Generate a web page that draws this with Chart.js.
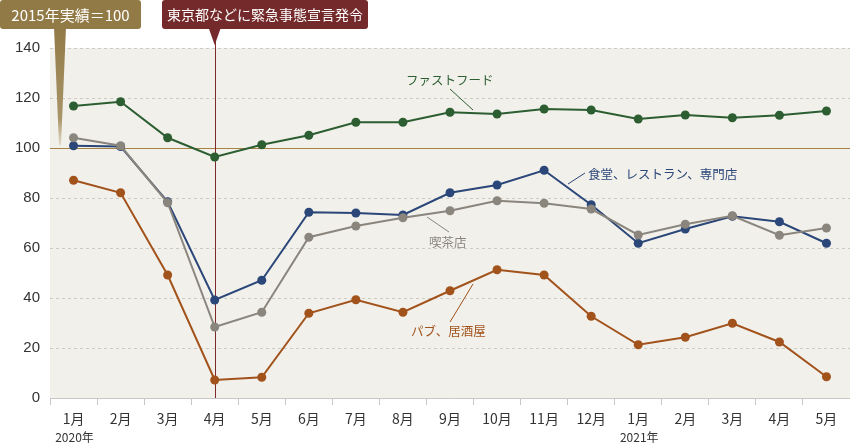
<!DOCTYPE html>
<html><head><meta charset="utf-8">
<script src="https://cdn.jsdelivr.net/npm/chart.js@4/dist/chart.umd.min.js"></script>
<style>html,body{margin:0;padding:0;background:#fff}#wrap{width:850px;height:445px;position:relative}</style>
</head><body><div id="wrap"><canvas id="c"></canvas></div>
<script>
const months = ['1月','2月','3月','4月','5月','6月','7月','8月','9月','10月','11月','12月','1月','2月','3月','4月','5月'];
const yearLabelIndex = [0, 12];
const yearLabelText = ['2020年', '2021年'];
const fastFood   = [116.8,118.5,104.1,96.4,101.3,105.1,110.3,110.3,114.3,113.6,115.6,115.2,111.6,113.2,112.1,113.1,114.8];
const restaurant = [100.9,100.6,78.5,39.2,47.1,74.3,74.0,73.2,82.1,85.2,91.1,77.3,61.9,67.6,72.7,70.5,61.9];
const kissaten   = [104.1,100.9,78.1,28.4,34.3,64.3,68.8,72.1,74.9,78.9,77.9,75.6,65.2,69.5,72.9,65.1,68.0];
const pub        = [87.1,82.1,49.2,7.2,8.3,33.9,39.3,34.3,42.9,51.3,49.2,32.7,21.3,24.3,29.9,22.4,8.5];
const seriesNames = ['ファストフード','食堂、レストラン、専門店','喫茶店','パブ、居酒屋'];
const yTicks = [0,20,40,60,80,100,120,140];
const baseValue = 100;
const emergencyIndex = 3;
const baseNote = '2015年実績＝100';
const emergencyNote = '東京都などに緊急事態宣言発令';

const C_GREEN = '#2c5e31', C_BLUE = '#2b4678', C_GRAY = '#8a857d', C_ORANGE = '#a2521b';
const JP = '"Noto Sans CJK JP", "Noto Sans", sans-serif';
const NUM = '"Liberation Sans", Arial, sans-serif';

function ds(label, data, color) {
  return { label, data, borderColor: color, backgroundColor: color, borderWidth: 2,
    pointRadius: 4.5, pointBackgroundColor: color, pointBorderWidth: 0, tension: 0 };
}

const deco = {
  id: 'deco',
  beforeDraw(chart) {
    const {ctx, chartArea: a} = chart;
    ctx.save();
    ctx.fillStyle = '#f1f0eb';
    ctx.fillRect(a.left, a.top, a.right - a.left, a.bottom - a.top);
    ctx.restore();
  },
  beforeDatasetsDraw(chart) {
    const {ctx, chartArea: a, scales: {x, y}} = chart;
    ctx.save();
    const y100 = Math.round(y.getPixelForValue(baseValue)) + 0.5;
    ctx.strokeStyle = '#a68243'; ctx.lineWidth = 1;
    ctx.beginPath(); ctx.moveTo(a.left, y100); ctx.lineTo(a.right, y100); ctx.stroke();
    const xe = Math.round(x.getPixelForValue(emergencyIndex)) + 0.5;
    ctx.strokeStyle = '#7e2a2a';
    ctx.beginPath(); ctx.moveTo(xe, 40); ctx.lineTo(xe, a.bottom); ctx.stroke();
    ctx.restore();
  },
  afterDatasetsDraw(chart) {
    const {ctx, chartArea: a, scales: {x, y}} = chart;
    ctx.save();
    function leader(x1, y1, x2, y2, color) {
      ctx.strokeStyle = color; ctx.lineWidth = 1;
      ctx.beginPath(); ctx.moveTo(x1, y1); ctx.lineTo(x2, y2); ctx.stroke();
    }
    function label(text, lx, ly, color) {
      ctx.fillStyle = color; ctx.font = '12.5px ' + JP;
      ctx.textAlign = 'left'; ctx.textBaseline = 'middle';
      ctx.fillText(text, lx, ly);
    }
    leader(450, 89, 473, 110, C_GREEN); label(seriesNames[0], 406, 80, C_GREEN);
    leader(585, 173, 568, 184, C_BLUE); label(seriesNames[1], 588, 174, C_BLUE);
    leader(427, 217, 449, 232, C_GRAY); label(seriesNames[2], 429, 242, C_GRAY);
    leader(450, 322, 473, 284, C_ORANGE); label(seriesNames[3], 411, 331, C_ORANGE);

    function rbox(x0, y0, w, h, r, color) {
      ctx.fillStyle = color;
      ctx.beginPath();
      ctx.moveTo(x0 + r, y0); ctx.lineTo(x0 + w - r, y0); ctx.quadraticCurveTo(x0 + w, y0, x0 + w, y0 + r);
      ctx.lineTo(x0 + w, y0 + h - r); ctx.quadraticCurveTo(x0 + w, y0 + h, x0 + w - r, y0 + h);
      ctx.lineTo(x0 + r, y0 + h); ctx.quadraticCurveTo(x0, y0 + h, x0, y0 + h - r);
      ctx.lineTo(x0, y0 + r); ctx.quadraticCurveTo(x0, y0, x0 + r, y0); ctx.closePath(); ctx.fill();
    }
    const y100 = y.getPixelForValue(baseValue);
    const g = ctx.createLinearGradient(0, 28, 0, y100);
    g.addColorStop(0, '#927a46'); g.addColorStop(0.75, '#a89468'); g.addColorStop(1, '#e8e2d2');
    ctx.fillStyle = g;
    ctx.beginPath(); ctx.moveTo(54, 27); ctx.lineTo(66, 27); ctx.lineTo(61, y100 - 3); ctx.lineTo(59, y100 - 3); ctx.closePath(); ctx.fill();
    rbox(0, 0, 141, 29, 3, '#927a46');
    ctx.fillStyle = '#fff'; ctx.font = '15px ' + JP; ctx.textAlign = 'center'; ctx.textBaseline = 'middle';
    ctx.fillText(baseNote, 70.5, 15);
    const xe = x.getPixelForValue(emergencyIndex);
    rbox(162, 0, 206, 29, 3, '#742a2a');
    ctx.fillStyle = '#742a2a';
    ctx.beginPath(); ctx.moveTo(xe - 6, 28); ctx.lineTo(xe + 6, 28); ctx.lineTo(xe, 45); ctx.closePath(); ctx.fill();
    ctx.fillStyle = '#fff'; ctx.font = '14px ' + JP;
    ctx.fillText(emergencyNote, 265, 15);
    ctx.restore();
  },
  afterDraw(chart) {
    const {ctx, scales: {x}} = chart;
    ctx.save();
    ctx.fillStyle = '#333'; ctx.font = '12px ' + JP; ctx.textAlign = 'center'; ctx.textBaseline = 'middle';
    yearLabelIndex.forEach((idx, i) => ctx.fillText(yearLabelText[i], x.getPixelForValue(idx) + 1, 437));
    ctx.restore();
  }
};

new Chart(document.getElementById('c'), {
  type: 'line',
  data: { labels: months, datasets: [
    ds(seriesNames[2], kissaten, C_GRAY),
    ds(seriesNames[3], pub, C_ORANGE),
    ds(seriesNames[1], restaurant, C_BLUE),
    ds(seriesNames[0], fastFood, C_GREEN)
  ]},
  options: {
    responsive: true, maintainAspectRatio: false, animation: false,
    layout: { autoPadding: false, padding: { top: 48, left: 0, right: 0, bottom: 0 } },
    plugins: { legend: { display: false }, tooltip: { enabled: false } },
    scales: {
      x: {
        type: 'category', offset: true,
        grid: { drawOnChartArea: false, drawTicks: true, tickLength: 7, color: '#c8c8c8', offset: true },
        border: { display: true, color: '#c8c8c8', width: 1 },
        ticks: { color: '#333', font: { size: 14, family: JP }, padding: 5, maxRotation: 0, autoSkip: false },
        afterFit(s) { s.height = 47; s.paddingLeft = 0; s.paddingRight = 0; }
      },
      y: {
        min: 0, max: 140,
        afterBuildTicks(s) { s.ticks = yTicks.map(v => ({ value: v })); },
        ticks: { color: '#333', font: { size: 15, family: NUM }, padding: 10 },
        grid: { drawTicks: false, color: (c) => (c.tick && (c.tick.value === baseValue || c.tick.value === 0)) ? 'rgba(0,0,0,0)' : '#cbcbc6', lineWidth: 1 },
        border: { display: false, dash: [3, 3] },
        afterFit(s) { s.width = 50; }
      }
    }
  },
  plugins: [deco]
});
</script></body></html>
